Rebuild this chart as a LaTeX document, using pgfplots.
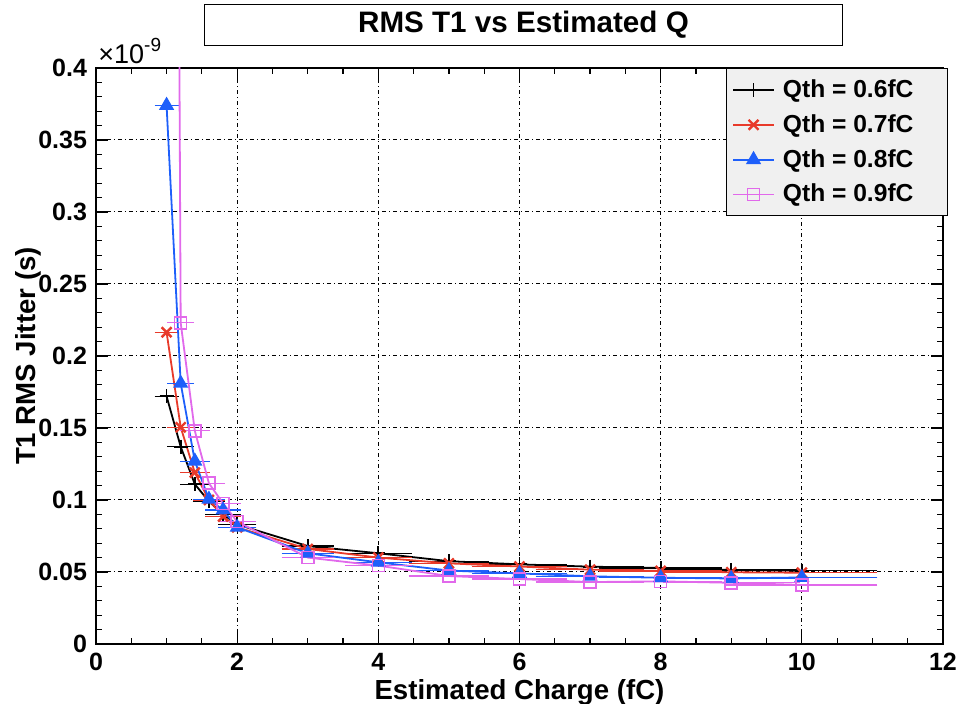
\documentclass[border=0pt]{standalone}
\usepackage{fontspec}
\setmainfont{Liberation Sans}
\usepackage{pgfplots}
\pgfplotsset{compat=1.18}
\definecolor{rootred}{RGB}{232,58,42}
\definecolor{rootblue}{RGB}{30,95,250}
\definecolor{rootmag}{RGB}{225,105,235}
\definecolor{legbg}{RGB}{240,240,240}

\begin{document}
\begin{tikzpicture}
\begin{axis}[
  name=ax,
  scale only axis, width=423.5pt, height=288pt,
  xmin=0, xmax=12, ymin=0, ymax=0.4,
  scaled ticks=false,
  xtick={0,2,4,6,8,10,12},
  xticklabels={0,2,4,6,8,10,12},
  ytick={0,0.05,0.1,0.15,0.2,0.25,0.3,0.35,0.4},
  yticklabels={0,0.05,0.1,0.15,0.2,0.25,0.3,0.35,0.4},
  minor x tick num=3, minor y tick num=4,
  tick align=inside,
  major tick length=6pt, minor tick length=3pt,
  axis line style={line width=0.9pt},
  every tick/.style={black, line width=0.6pt},
  grid=major,
  major grid style={black, line width=0.5pt, dash pattern=on 2pt off 1.5pt on 0.5pt off 1.5pt},
  tick label style={font=\bfseries\fontsize{12.5}{13}\selectfont},
  xticklabel style={yshift=-1pt},
  yticklabel style={xshift=-1pt},
  xlabel={\bfseries Estimated Charge (fC)},
  ylabel={\bfseries T1 RMS Jitter (s)},
  label style={font=\bfseries\fontsize{13.8}{14}\selectfont},
  xlabel style={at={(rel axis cs:0.5,0)}, anchor=center, yshift=-24pt},
  ylabel style={at={(rel axis cs:0,0.5)}, anchor=center, yshift=34pt},
  legend style={at={(rel axis cs:1.006,1)}, anchor=north east, fill=legbg,
    draw=black, line width=0.6pt, font=\bfseries\fontsize{12.3}{13}\selectfont,
    row sep=3pt, inner xsep=3pt, inner ysep=3.5pt,
    /tikz/every odd column/.append style={column sep=2pt}},
  legend cell align=left,
  legend image code/.code={\draw[mark repeat=2, mark phase=2, #1]
    plot coordinates {(0cm,0cm) (0.36cm,0cm) (0.72cm,0cm)};},
  error bars/x dir=both, error bars/x explicit,
  error bars/error bar style={line width=0.6pt},
  error bars/error mark options={mark size=2.5pt, line width=0.6pt},
]
\addplot[black, line width=0.9pt, mark=+, mark size=3.5pt] coordinates {
  (1.0,0.172) +- (0.10,0)
  (1.2,0.137) +- (0.12,0)
  (1.4,0.111) +- (0.14,0)
  (1.6,0.099) +- (0.16,0)
  (1.8,0.090) +- (0.18,0)
  (2.0,0.083) +- (0.20,0)
  (3.0,0.068) +- (0.30,0)
  (4.0,0.063) +- (0.40,0)
  (5.0,0.0575) +- (0.50,0)
  (6.0,0.0553) +- (0.60,0)
  (7.0,0.0537) +- (0.70,0)
  (8.0,0.0528) +- (0.80,0)
  (9.0,0.0514) +- (0.90,0)
  (10.0,0.0509) +- (1.00,0)
};
\addlegendentry{Qth = 0.6fC\hspace*{12pt}}
\addplot[rootred, line width=0.9pt, mark=x, mark size=3.5pt, mark options={line width=1.2pt}] coordinates {
  (1.0,0.2165) +- (0.10,0)
  (1.2,0.1505) +- (0.12,0)
  (1.4,0.119) +- (0.14,0)
  (1.6,0.100) +- (0.16,0)
  (1.8,0.0885) +- (0.18,0)
  (2.0,0.081) +- (0.20,0)
  (3.0,0.066) +- (0.30,0)
  (4.0,0.060) +- (0.40,0)
  (5.0,0.056) +- (0.50,0)
  (6.0,0.0538) +- (0.60,0)
  (7.0,0.0516) +- (0.70,0)
  (8.0,0.0507) +- (0.80,0)
  (9.0,0.0498) +- (0.90,0)
  (10.0,0.0495) +- (1.00,0)
};
\addlegendentry{Qth = 0.7fC}
\addplot[rootblue, line width=0.9pt, mark=triangle*, mark size=3.5pt] coordinates {
  (1.0,0.374) +- (0.10,0)
  (1.2,0.181) +- (0.12,0)
  (1.4,0.127) +- (0.14,0)
  (1.6,0.1005) +- (0.16,0)
  (1.8,0.093) +- (0.18,0)
  (2.0,0.081) +- (0.20,0)
  (3.0,0.063) +- (0.30,0)
  (4.0,0.0567) +- (0.40,0)
  (5.0,0.051) +- (0.50,0)
  (6.0,0.049) +- (0.60,0)
  (7.0,0.047) +- (0.70,0)
  (8.0,0.046) +- (0.80,0)
  (9.0,0.0455) +- (0.90,0)
  (10.0,0.0462) +- (1.00,0)
};
\addlegendentry{Qth = 0.8fC}
\addplot[rootmag, line width=0.9pt, mark=square, mark size=3pt, mark options={line width=0.8pt}] coordinates {
  (1.0,2.2) +- (0.10,0)
  (1.2,0.223) +- (0.12,0)
  (1.4,0.148) +- (0.14,0)
  (1.6,0.1116) +- (0.16,0)
  (1.8,0.0977) +- (0.18,0)
  (2.0,0.085) +- (0.20,0)
  (3.0,0.060) +- (0.30,0)
  (4.0,0.0544) +- (0.40,0)
  (5.0,0.0472) +- (0.50,0)
  (6.0,0.0451) +- (0.60,0)
  (7.0,0.043) +- (0.70,0)
  (8.0,0.0435) +- (0.80,0)
  (9.0,0.0425) +- (0.90,0)
  (10.0,0.041) +- (1.00,0)
};
\addlegendentry{Qth = 0.9fC}
\end{axis}
\node[draw=black, line width=0.6pt, fill=white, minimum width=319pt, minimum height=20pt,
  font=\bfseries\fontsize{14.8}{15}\selectfont]
  at ([xshift=2pt, yshift=21.5pt]ax.north) {RMS T1 vs Estimated Q};
\node[anchor=south west, inner sep=0pt, font=\fontsize{13.5}{14}\selectfont]
  at ([xshift=1pt, yshift=2pt]ax.north west) {×10\raisebox{0.8ex}{\fontsize{9.5}{10}\selectfont -9}};
\pgfresetboundingbox
\path ([xshift=-48pt, yshift=-30pt]ax.south west) rectangle ([xshift=11pt, yshift=34pt]ax.north east);
\end{tikzpicture}
\end{document}
